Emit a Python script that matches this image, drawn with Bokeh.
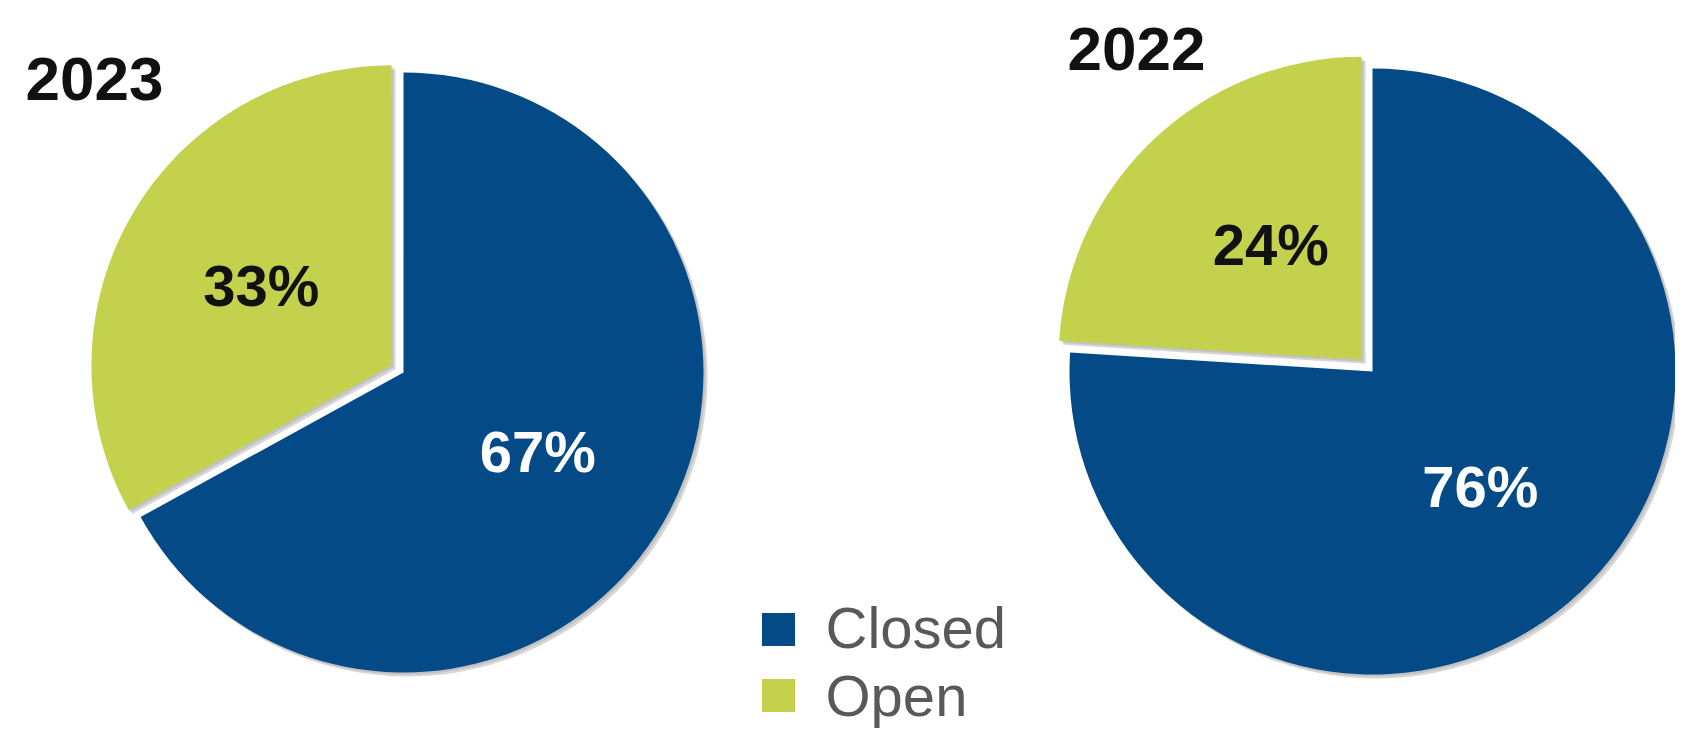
import math
from bokeh.plotting import figure
from bokeh.models import Range1d, ColumnDataSource
from bokeh.embed import file_html
from bokeh.resources import INLINE
from bokeh.core.properties import value

# ---- data ----
years = ["2023", "2022"]
categories = ["Closed", "Open"]
closed_pct = [67, 76]
open_pct = [33, 24]

BLUE = "#034A87"
GREEN = "#C3D14D"

# ---- layout (page pixels, y flipped) ----
W, H = 1675, 734
IMG_H = 750
centers = [(411, IMG_H - 380), (1380, IMG_H - 379)]
radii = [300, 303]
explode = [14, 16]
open_label_dx = [4, 17]
title_pos = [(33, IMG_H - 86), (1075, IMG_H - 56)]

p = figure(width=W, height=H, x_range=Range1d(8, 8 + W),
           y_range=Range1d(IMG_H - 8 - H, IMG_H - 8),
           output_backend="svg", toolbar_location=None, min_border=0)
p.axis.visible = False
p.grid.visible = False
p.outline_line_color = None
p.background_fill_color = "white"

wx, wy, wr, ws, we, wc = [], [], [], [], [], []
sx, sy, sr, ss, se = [], [], [], [], []
lx, ly, lt, lc = [], [], [], []

for i in range(len(years)):
    cx, cy = centers[i]
    r = radii[i]
    c_deg = closed_pct[i] * 3.6
    o_deg = open_pct[i] * 3.6
    c_start = math.radians(90 - c_deg)
    c_end = math.radians(90)
    o_start = math.radians(90)
    o_end = math.radians(90 + o_deg)
    o_mid = (o_start + o_end) / 2
    c_mid = (c_start + c_end) / 2
    ox = cx + explode[i] * math.cos(o_mid)
    oy = cy + explode[i] * math.sin(o_mid)

    for (x0, y0, a0, a1, col) in [(cx, cy, c_start, c_end, BLUE), (ox, oy, o_start, o_end, GREEN)]:
        wx.append(x0); wy.append(y0); wr.append(r); ws.append(a0); we.append(a1); wc.append(col)
        sx.append(x0 + 4); sy.append(y0 - 4); sr.append(r); ss.append(a0); se.append(a1)

    f = 0.52
    lx.append(cx + f * r * math.cos(c_mid)); ly.append(cy + f * r * math.sin(c_mid))
    lt.append(f"{closed_pct[i]}%"); lc.append("white")
    lx.append(ox + f * r * math.cos(o_mid) + open_label_dx[i]); ly.append(oy + f * r * math.sin(o_mid))
    lt.append(f"{open_pct[i]}%"); lc.append("#111111")

shadow = ColumnDataSource(dict(x=sx, y=sy, r=sr, s=ss, e=se))
p.wedge(x="x", y="y", radius="r", start_angle="s", end_angle="e", source=shadow,
        fill_color="#8c8c8c", fill_alpha=0.35, line_color=None)
shadow2 = ColumnDataSource(dict(x=[v - 2 for v in sx], y=[v + 2 for v in sy], r=sr, s=ss, e=se))
p.wedge(x="x", y="y", radius="r", start_angle="s", end_angle="e", source=shadow2,
        fill_color="#9a9a9a", fill_alpha=0.35, line_color=None)

wsrc = ColumnDataSource(dict(x=wx, y=wy, r=wr, s=ws, e=we, c=wc))
p.wedge(x="x", y="y", radius="r", start_angle="s", end_angle="e", source=wsrc,
        fill_color="c", line_color=None)

lsrc = ColumnDataSource(dict(x=lx, y=ly, t=lt, c=lc))
p.text(x="x", y="y", text="t", text_color="c", source=lsrc,
       text_font=value("Liberation Sans"), text_font_style="bold",
       text_font_size="58px", text_align="center", text_baseline="middle")

# titles
tsrc = ColumnDataSource(dict(x=[t[0] for t in title_pos], y=[t[1] for t in title_pos], t=years))
p.text(x="x", y="y", text="t", source=tsrc, text_color="#111111",
       text_font=value("Liberation Sans"), text_font_style="bold",
       text_font_size="62px", text_align="left", text_baseline="alphabetic")

# legend
leg_src = ColumnDataSource(dict(x=[786, 786], y=[IMG_H - 637, IMG_H - 703], c=[BLUE, GREEN], t=categories,
                                tx=[833, 833], ty=[IMG_H - 635, IMG_H - 703]))
p.scatter(x="x", y="y", marker="square", size=33, fill_color="c", line_color=None, source=leg_src)
p.text(x="tx", y="ty", text="t", source=leg_src, text_color="#595959",
       text_font=value("Liberation Sans"), text_font_size="58px",
       text_align="left", text_baseline="alphabetic")

open("out.html", "w").write(file_html(p, INLINE))
